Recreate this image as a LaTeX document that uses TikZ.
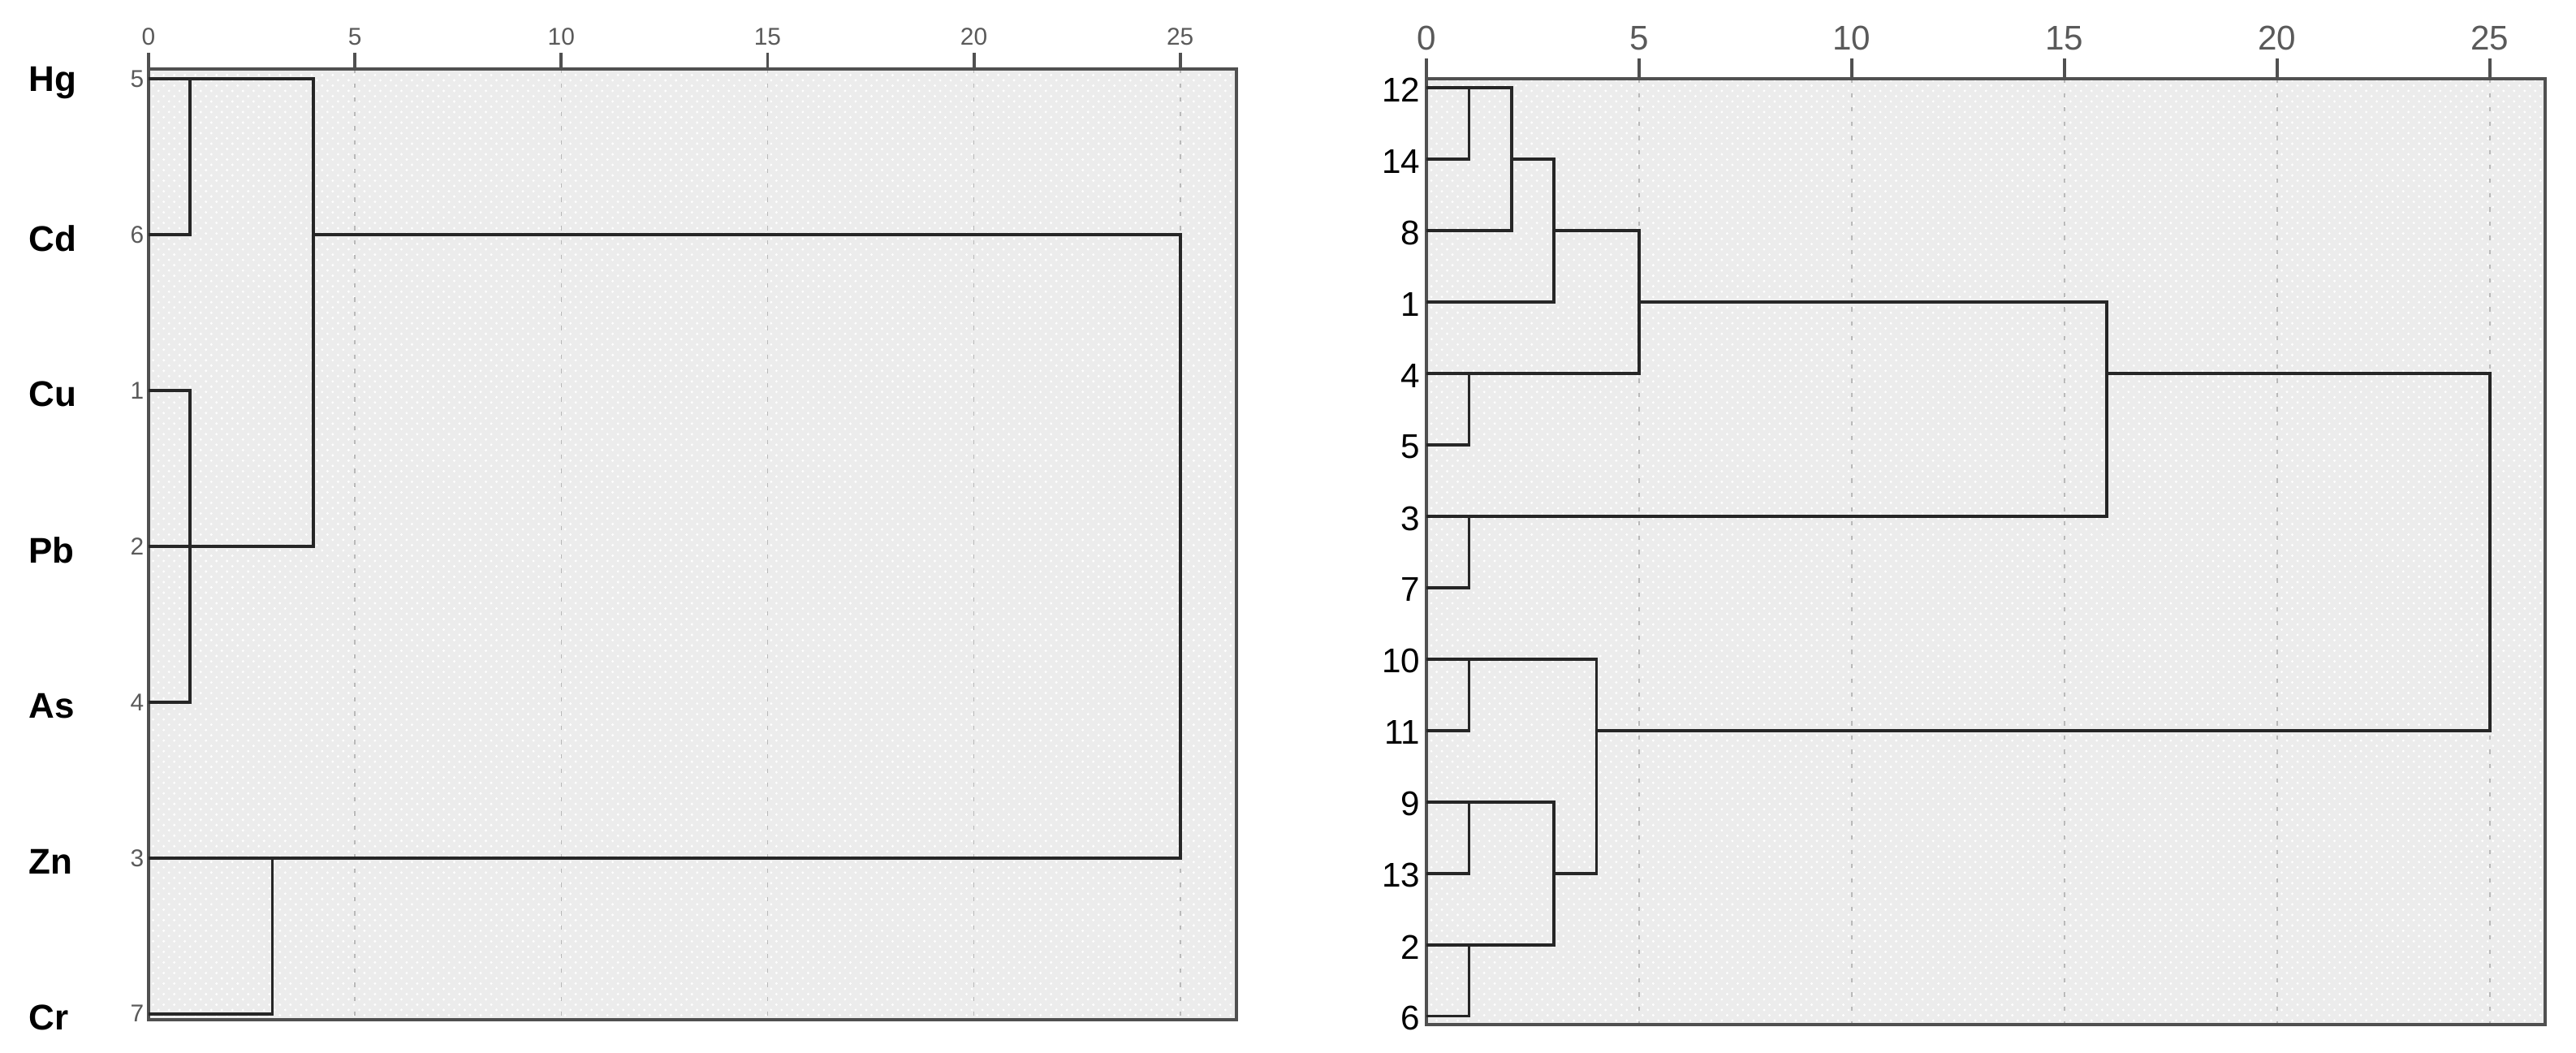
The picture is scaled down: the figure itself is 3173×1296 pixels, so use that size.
\documentclass[tikz,border=0pt]{standalone}
\usepackage{fontspec}
\setmainfont{Liberation Sans}
\usetikzlibrary{patterns}

\definecolor{plotbg}{HTML}{ECECEC}
\definecolor{framegray}{HTML}{505050}
\definecolor{labelgray}{HTML}{5A5A5A}

\pgfdeclarepatternformonly{fine dots}{\pgfqpoint{-1pt}{-1pt}}{\pgfqpoint{3pt}{3pt}}{\pgfqpoint{3.7pt}{3.7pt}}{%
  \pgfpathcircle{\pgfqpoint{0pt}{0pt}}{0.45pt}
  \pgfpathcircle{\pgfqpoint{1.85pt}{1.85pt}}{0.45pt}
  \pgfusepath{fill}}

\tikzset{
  link/.style={draw=black!85, line width=1.05pt},
  frame/.style={draw=framegray, line width=1.2pt},
  backdrop/.style={fill=plotbg, postaction={pattern=fine dots, pattern color=white}},
  gridline/.style={draw=gray!55, line width=0.45pt, dash pattern=on 1.5pt off 3.5pt},
  tick/.style={draw=framegray, line width=1.1pt},
  smallnum/.style={font=\fontsize{8.5}{10}\selectfont, text=labelgray, inner sep=0pt},
  bignum/.style={font=\fontsize{12}{14}\selectfont, inner sep=0pt},
  element/.style={font=\fontsize{12.5}{15}\selectfont\bfseries, inner sep=0pt, anchor=west},
}

\begin{document}
\begin{tikzpicture}[x=0.01cm, y=-0.01cm]
    \useasboundingbox (0,0) rectangle (3173,1296);

    % left panel: elements
    \begin{scope}[shift={(183,97)}, x=0.508cm, y=-1.9183cm]
        \filldraw[backdrop] (0,-0.0626) rectangle (26.36,6.037);
        \foreach \t in {5,10,...,25}
            \draw[gridline] (\t,-0.0626) -- (\t,6.037);
        \draw[frame] (0,-0.0626) rectangle (26.36,6.037);
        \foreach \t in {0,5,...,25} {
            \draw[tick] (\t,-0.167) -- (\t,-0.0626);
            \node[smallnum] (ltick\t) at (\t,-0.271) {\t};
        }

        \foreach \name/\num [count=\r from 0] in {Hg/5, Cd/6, Cu/1, Pb/2, As/4, Zn/3, Cr/7} {
            \node[element] (el\name) at (-2.913,\r+0.025) {\name};
            \node[smallnum, anchor=east] (leaf\num) at (-0.1,\r) {\num};
        }

        \draw[link] (0,0) -- (4,0) |- (0,3);
        \draw[link] (0,1) -| (1,0);
        \draw[link] (0,2) -| (1,4) -- (0,4);
        \draw[link] (4,1) -| (25,5) -- (0,5);
        \draw[link] (3,5) |- (0,6);
    \end{scope}

    % right panel: sites
    \begin{scope}[shift={(1757,108)}, x=0.5236cm, y=-0.8792cm]
        \filldraw[backdrop] (0,-0.125) rectangle (26.30,13.114);
        \foreach \t in {5,10,...,25}
            \draw[gridline] (\t,-0.125) -- (\t,13.114);
        \draw[frame] (0,-0.125) rectangle (26.30,13.114);
        \foreach \t in {0,5,...,25} {
            \draw[tick] (\t,-0.409) -- (\t,-0.125);
            \node[bignum, text=labelgray] (rtick\t) at (\t,-0.694) {\t};
        }

        \foreach \site [count=\r from 0] in {12,14,8,1,4,5,3,7,10,11,9,13,2,6}
            \node[bignum, anchor=east] (site\site) at (-0.134,\r+0.03) {\site};

        \draw[link] (0,0) -- (2,0) |- (0,2);
        \draw[link] (0,1) -| (1,0);
        \draw[link] (2,1) -| (3,3) -- (0,3);
        \draw[link] (3,2) -| (5,4) -- (0,4);
        \draw[link] (0,5) -| (1,4);
        \draw[link] (5,3) -| (16,6) -- (0,6);
        \draw[link] (0,7) -| (1,6);
        \draw[link] (16,4) -| (25,9) -- (4,9);
        \draw[link] (0,9) -| (1,8);
        \draw[link] (0,8) -- (4,8) |- (3,11);
        \draw[link] (0,10) -- (3,10) |- (0,12);
        \draw[link] (0,11) -| (1,10);
        \draw[link] (0,13) -| (1,12);
    \end{scope}

\end{tikzpicture}
\end{document}
